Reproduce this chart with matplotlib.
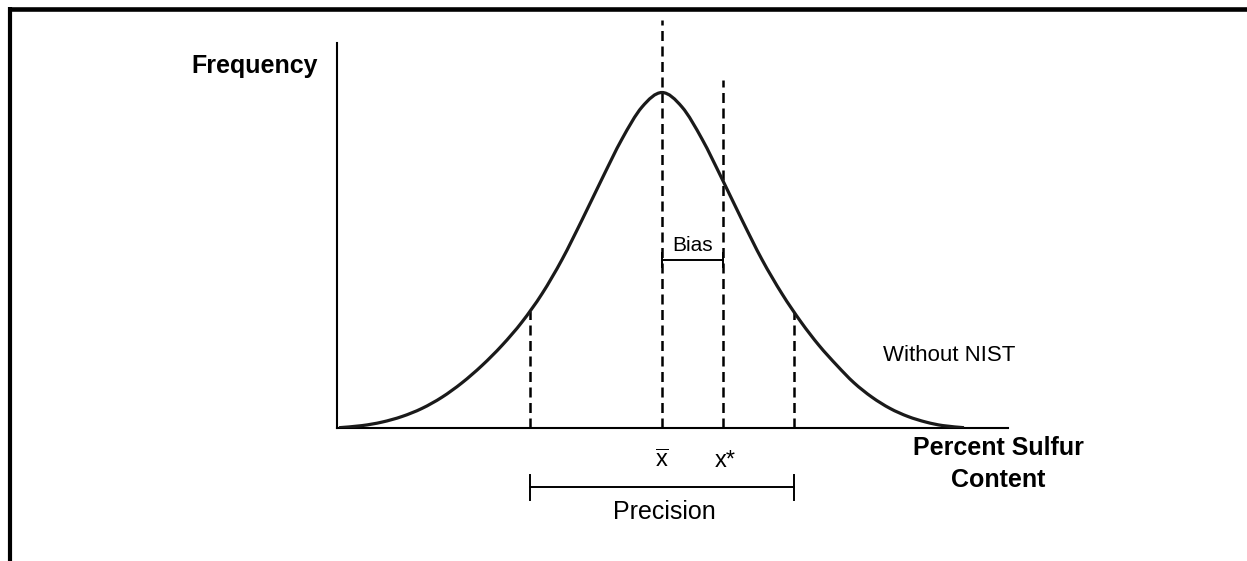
import numpy as np
import matplotlib.pyplot as plt
from matplotlib.lines import Line2D
from matplotlib.path import Path
from matplotlib.patches import PathPatch

plt.rcParams['font.family'] = ['Liberation Sans', 'DejaVu Sans']
plt.rcParams['mathtext.fontset'] = 'custom'
plt.rcParams['mathtext.rm'] = 'Liberation Sans'

# curve (x from the y axis, y up from the x axis)
curve_x = [2, 25, 45, 65, 85, 105, 125, 145, 165, 185, 205, 225, 245, 265, 285, 305, 325,
           345, 365, 385, 405, 425, 445, 464, 482, 500, 517, 535, 553, 571, 589, 606, 627]
curve_y = [0.3, 2.4, 5.9, 11.5, 19.6, 30.8, 45.2, 62.5, 82.6, 106, 134.2, 168.4, 208, 249.2,
           289, 321, 335.5,
           321, 289, 249.2, 208, 168.4, 134.2, 106, 82.6, 62.5, 45.2, 30.8, 19.6, 11.5, 5.9,
           2.4, 0.3]

x_mean = 325
x_star = 386
prec_lo, prec_hi = 193, 457

# dashed guide lines: x position, top y
guide_x = [prec_lo, x_mean, x_star, prec_hi]
guide_top = [117, 408, 348, 116]

W, H = 1247, 561
fig = plt.figure(figsize=(W / 100, H / 100), dpi=100)
ax = fig.add_axes([337 / W, (H - 428) / H, 671 / W, 385 / H])
ax.set_xlim(0, 671)
ax.set_ylim(0, 385)
ax.spines['top'].set_visible(False)
ax.spines['right'].set_visible(False)
for s in ['left', 'bottom']:
    ax.spines[s].set_linewidth(1.5)
ax.set_xticks([])
ax.set_yticks([])

# draw the read points as a smooth bezier path (catmull-rom handles)
pts = np.column_stack([curve_x, curve_y]).astype(float)
verts = [pts[0]]
codes = [Path.MOVETO]
n = len(pts)
for i in range(n - 1):
    p0 = pts[max(i - 1, 0)]
    p1 = pts[i]
    p2 = pts[i + 1]
    p3 = pts[min(i + 2, n - 1)]
    verts += [p1 + (p2 - p0) / 6, p2 - (p3 - p1) / 6, p2]
    codes += [Path.CURVE4] * 3
ax.add_patch(PathPatch(Path(verts, codes), fill=False, edgecolor='#1a1a1a',
                       lw=2.3, zorder=3))

for gx, gt in zip(guide_x, guide_top):
    ax.plot([gx, gx], [0, gt], color='black', lw=1.8, dashes=(4, 2.2), clip_on=False)

# bias bracket
by = 168
ax.plot([x_mean, x_star], [by, by], color='black', lw=1.4)
for bx in [x_mean, x_star]:
    ax.plot([bx, bx], [by - 7, by + 7], color='black', lw=1.4)
ax.text((x_mean + x_star) / 2, 177, 'Bias', ha='center', va='baseline', fontsize=15)

# precision bracket
py = -59
ax.plot([prec_lo, prec_hi], [py, py], color='black', lw=1.4, clip_on=False)
for px in [prec_lo, prec_hi]:
    ax.plot([px, px], [py + 12, py - 13], color='black', lw=1.4, clip_on=False)
ax.text(327.5, -91, 'Precision', ha='center', va='baseline', fontsize=18)

ax.text(x_mean, -39, r'$\overline{\mathrm{x}}$', ha='center', va='baseline', fontsize=17)
ax.text(378, -39, 'x*', ha='left', va='baseline', fontsize=17)

ax.text(-19, 355, 'Frequency', ha='right', va='baseline', fontsize=18, fontweight='bold')
ax.text(661, -27, 'Percent Sulfur', ha='center', va='baseline', fontsize=18, fontweight='bold')
ax.text(661, -59, 'Content', ha='center', va='baseline', fontsize=18, fontweight='bold')
ax.text(612, 67, 'Without NIST', ha='center', va='baseline', fontsize=16)

# frame around the figure (top and left only)
fig.add_artist(Line2D([8 / W, 1], [1 - 8.7 / H, 1 - 8.7 / H], color='black', lw=3.3,
                      solid_capstyle='butt'))
fig.add_artist(Line2D([10.3 / W, 10.3 / W], [1 - 7 / H, 0], color='black', lw=3.0,
                      solid_capstyle='butt'))

fig.savefig('out.png', dpi=100, facecolor='white')
